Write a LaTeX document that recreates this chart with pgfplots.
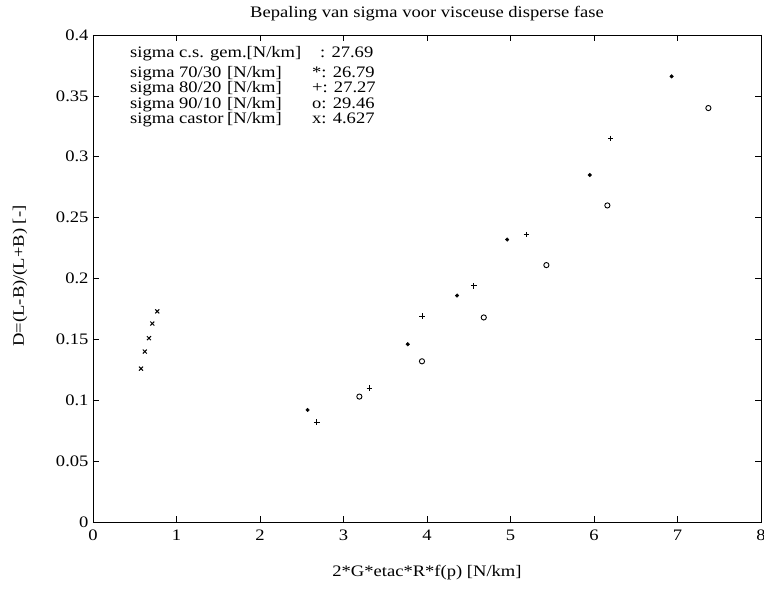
\documentclass[border=0pt]{standalone}
\usepackage{fontspec}
\setmainfont[FakeStretch=1.16]{Liberation Serif}
\usepackage{pgfplots}
\pgfplotsset{compat=1.18}
\newcommand\fs{\fontsize{16}{19}\selectfont}
\newcommand\row[3]{\makebox[97pt][l]{#1}\makebox[85pt][l]{#2}#3}
\begin{document}
\fs
\begin{tikzpicture}
\begin{axis}[
  at={(0pt,0pt)}, anchor=south west,
  scale only axis, width=668pt, height=487pt,
  xmin=0, xmax=8, ymin=0, ymax=0.4,
  xtick={0,1,2,3,4,5,6,7,8},
  ytick={0,0.05,0.1,0.15,0.2,0.25,0.3,0.35,0.4},
  yticklabels={0,0.05,0.1,0.15,0.2,0.25,0.3,0.35,0.4},
  /pgf/number format/assume math mode=true,
  tick align=inside, major tick length=6pt,
  tick style={black, line width=0.6pt},
  axis line style={line width=0.8pt},
  every tick label/.append style={font=\fs},
  xticklabel style={yshift=-2pt},
  yticklabel style={xshift=1pt},
  clip=false,
]
\addplot[only marks, mark=*, mark size=1.8pt, black] coordinates {
 (2.57,0.092) (3.77,0.146) (4.36,0.186) (4.96,0.232) (5.95,0.285) (6.93,0.366)};
\addplot[only marks, mark=+, mark size=2.8pt, black, line width=0.9pt] coordinates {
 (2.68,0.082) (3.31,0.110) (3.94,0.169) (4.56,0.194) (5.19,0.236) (6.20,0.315)};
\addplot[only marks, mark=o, mark size=2.6pt, black, line width=0.9pt] coordinates {
 (3.19,0.103) (3.94,0.132) (4.68,0.168) (5.43,0.211) (6.16,0.260) (7.37,0.340)};
\addplot[only marks, mark=x, mark size=2.8pt, black, line width=1pt] coordinates {
 (0.575,0.126) (0.62,0.140) (0.67,0.151) (0.71,0.163) (0.77,0.173)};
\node[anchor=base west, inner sep=0pt, font=\fs] at (axis cs:0.443,0.3819)
  {\makebox[190pt][l]{sigma c.s. gem.[N/km]}: 27.69};
\node[anchor=base west, inner sep=0pt, align=left, font=\fontsize{16}{14}\selectfont] at (axis cs:0.443,0.3269)
  {\row{sigma 70/30}{[N/km]}{*: 26.79}\\
   \row{sigma 80/20}{[N/km]}{+: 27.27}\\
   \row{sigma 90/10}{[N/km]}{o: 29.46}\\
   \row{sigma castor}{[N/km]}{x: 4.627}};
\end{axis}
\node[anchor=base, font=\fs] at (334pt,504pt) {Bepaling van sigma voor visceuse disperse fase};
\node[font=\fs] at (334pt,-51pt) {2*G*etac*R*f(p) [N/km]};
\node[font=\fs, rotate=90] at (-73pt,246pt) {D=(L-B)/(L+B) [-]};
\pgfresetboundingbox
\path (-93pt,-72pt) rectangle (671pt,522pt);
\end{tikzpicture}
\end{document}
